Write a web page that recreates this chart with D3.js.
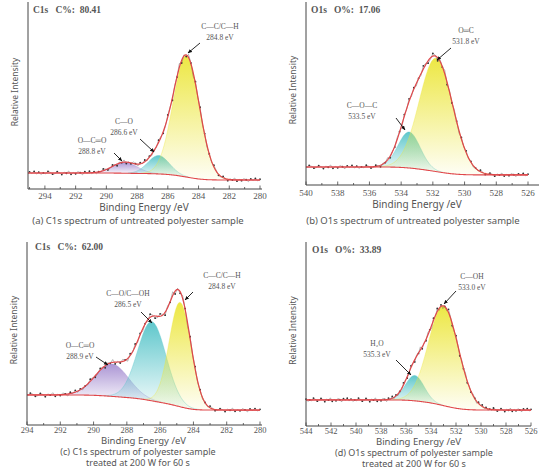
<!DOCTYPE html>
<html>
<head>
<meta charset="utf-8">
<script src="https://cdn.jsdelivr.net/npm/d3@7"></script>
<style>
  body { margin: 0; background: #fff; }
  svg text { fill: #555; }
  .serif { font-family: "Liberation Serif", "DejaVu Serif", serif; }
  .sans { font-family: "Noto Sans", "Open Sans", sans-serif; }
</style>
</head>
<body>
<div id="chart"></div>
<script>
// Peak fits: [centre eV, amplitude (% of axis height), sigma eV, colour key]
const peaksA = [[284.8, 66, 0.85, 'y'], [286.6, 10, 0.7, 'c'], [288.8, 6, 0.8, 'p']];
const peaksB = [[531.8, 63, 1.05, 'y'], [533.5, 20, 0.7, 'c']];
const peaksC = [[284.8, 58, 0.65, 'y'], [286.5, 44, 0.85, 'c'], [288.9, 18, 1.0, 'p']];
const peaksD = [[533.0, 55, 1.2, 'y'], [535.3, 14, 0.75, 'c']];

// background level at high-BE and low-BE end
const bgA = [8.7, 4.9], bgB = [10, 5.6], bgC = [16.7, 8.3], bgD = [14.4, 8.8];

// residual scatter of the measured points (repeats along the scan)
const noise = [0.6, -0.8, 1.2, -0.3, 0.9, -1.4, 0.2, 1.1, -0.6, 0.4, -1.0, 1.5, -0.2, 0.7, -1.2, 0.3, 1.0, -0.5, -0.9, 0.5, 1.3, -0.7, 0.1, -1.1];

const headers = ['C1s   C%:  80.41', 'O1s   O%:  17.06', 'C1s   C%:  62.00', 'O1s   O%:  33.89'];
const captions = [
  ['(a) C1s spectrum of untreated polyester sample'],
  ['(b) O1s spectrum of untreated polyester sample'],
  ['(c) C1s spectrum of polyester sample', 'treated at 200 W for 60 s'],
  ['(d) O1s spectrum of polyester sample', 'treated at 200 W for 60 s']
];
const tickValsC = [294, 292, 290, 288, 286, 284, 282, 280];
const tickValsB = [540, 538, 536, 534, 532, 530, 528, 526];
const tickValsD = [544, 542, 540, 538, 536, 534, 532, 530, 528, 526];

// annotations: [label, eV line, text x, text y, arrow from, arrow to]
const notesA = [['C—C/C—H', '284.8 eV', 220, 29, [200, 43], [188, 53]],
  ['C—O', '286.6 eV', 124, 124, [140, 139], [154, 152]],
  ['O—C═O', '288.8 eV', 92, 143, [114, 153], [122, 161]]];
const notesB = [['O═C', '531.8 eV', 466, 33, [451, 48], [437, 60]],
  ['C—O—C', '533.5 eV', 362, 108, [396, 118], [405, 130]]];
const notesC = [['C—C/C—H', '284.8 eV', 222, 278, [193, 292], [185, 300]],
  ['C—O/C—OH', '286.5 eV', 128, 296, [141, 312], [152, 323]],
  ['O—C═O', '288.9 eV', 80, 348, [96, 357], [108, 365]]];
const notesD = [['C—OH', '533.0 eV', 472, 279, [456, 291], [444, 304]],
  ['H₂O', '535.3 eV', 377, 346, [396, 360], [411, 375]]];

const panels = [
  { peaks: peaksA, bg: bgA, dom: [295.1, 280], x: [28, 260], y: [189, 5], axisEnd: 262, ticks: tickValsC, notes: notesA, hx: 33, hy: 13, tickY: 199, titleY: 211, capY: 224, capX: 138 },
  { peaks: peaksB, bg: bgB, dom: [540, 526], x: [306, 528], y: [185, 5], axisEnd: 539, ticks: tickValsB, notes: notesB, hx: 311, hy: 13, tickY: 196, titleY: 208, capY: 224, capX: 413 },
  { peaks: peaksC, bg: bgC, dom: [294, 280], x: [27, 260], y: [425, 245], axisEnd: 262, ticks: tickValsC, notes: notesC, hx: 35, hy: 250, tickY: 433, titleY: 444, capY: 455, capX: 138 },
  { peaks: peaksD, bg: bgD, dom: [544, 526], x: [306, 531], y: [426, 245], axisEnd: 531, ticks: tickValsD, notes: notesD, hx: 312, hy: 253, tickY: 434, titleY: 445, capY: 456, capX: 414 }
];

const colours = { y: '#ece63a', c: '#56c4c9', p: '#a790d2' };

const svg = d3.select('#chart').append('svg').attr('width', 553).attr('height', 474);
const defs = svg.append('defs');
Object.entries(colours).forEach(([k, c]) => {
  const g = defs.append('linearGradient').attr('id', 'g' + k).attr('x1', 0).attr('x2', 0).attr('y1', 0).attr('y2', 1);
  g.append('stop').attr('offset', '0%').attr('stop-color', c).attr('stop-opacity', 0.95);
  g.append('stop').attr('offset', '100%').attr('stop-color', c).attr('stop-opacity', 0.05);
});
const marker = defs.append('marker').attr('id', 'arr').attr('viewBox', '0 0 10 10').attr('refX', 9).attr('refY', 5)
  .attr('markerWidth', 5).attr('markerHeight', 5).attr('orient', 'auto');
marker.append('path').attr('d', 'M0,1 L10,5 L0,9 z').attr('fill', '#111');

const gauss = (e, p) => p[1] * Math.exp(-((e - p[0]) ** 2) / (2 * p[2] * p[2]));

panels.forEach((P, i) => {
  const x = d3.scaleLinear().domain(P.dom).range(P.x);
  const y = d3.scaleLinear().domain([0, 100]).range(P.y);
  const lo = Math.min(...P.dom), hi = Math.max(...P.dom);
  const step = 0.05;
  const es = d3.range(lo, hi + step / 2, step);
  // Shirley-like background: step proportional to peak area on the low-BE side
  let cum = 0;
  const sums = es.map(e => d3.sum(P.peaks, p => gauss(e, p)));
  const total = d3.sum(sums);
  const bg = es.map((e, k) => { cum += sums[k]; return P.bg[1] + (P.bg[0] - P.bg[1]) * cum / total; });
  const g = svg.append('g');

  // component fills
  P.peaks.slice().reverse().forEach(p => {
    const pts = es.map((e, k) => ({ e, b: bg[k], v: gauss(e, p) })).filter(d => d.v > 0.15);
    g.append('path').datum(pts)
      .attr('d', d3.area().x(d => x(d.e)).y0(d => y(d.b)).y1(d => y(d.b + d.v)).curve(d3.curveBasis))
      .attr('fill', `url(#g${p[3]})`);
    g.append('path').datum(pts)
      .attr('d', d3.line().x(d => x(d.e)).y(d => y(d.b + d.v)))
      .attr('fill', 'none').attr('stroke', colours[p[3]]).attr('stroke-width', 0.6).attr('opacity', 0.6);
  });

  const env = es.map((e, k) => ({ e, v: bg[k] + sums[k] }));
  // measured points
  const meas = env.filter((d, k) => k % 3 === 0).map((d, k) => ({ e: d.e, v: d.v + noise[k % noise.length] * (0.6 + d.v / 80) }));
  g.append('path').datum(meas).attr('d', d3.line().x(d => x(d.e)).y(d => y(d.v)))
    .attr('fill', 'none').attr('stroke', '#555').attr('stroke-width', 0.6).attr('opacity', 0.7);
  g.selectAll('circle').data(meas.filter((d, k) => k % 2 === 0)).join('circle')
    .attr('cx', d => x(d.e)).attr('cy', d => y(d.v)).attr('r', 0.9).attr('fill', '#333');

  g.append('path').datum(es.map((e, k) => ({ e, v: bg[k] })))
    .attr('d', d3.line().x(d => x(d.e)).y(d => y(d.v))).attr('fill', 'none').attr('stroke', '#e0474a').attr('stroke-width', 1.1);
  g.append('path').datum(env).attr('d', d3.line().x(d => x(d.e)).y(d => y(d.v)))
    .attr('fill', 'none').attr('stroke', '#e0474a').attr('stroke-width', 1.2);

  // axes
  g.append('line').attr('x1', P.x[0]).attr('x2', P.axisEnd).attr('y1', P.y[0]).attr('y2', P.y[0]).attr('stroke', '#444').attr('stroke-width', 1);
  g.append('line').attr('x1', P.x[0]).attr('x2', P.x[0]).attr('y1', P.y[0]).attr('y2', P.y[1] - 3).attr('stroke', '#444').attr('stroke-width', 1);
  const minor = d3.range(Math.ceil(lo), Math.floor(hi) + 1);
  g.selectAll('.tk').data(minor).join('line')
    .attr('x1', d => x(d)).attr('x2', d => x(d)).attr('y1', P.y[0]).attr('y2', d => P.y[0] - (d % 2 === 0 ? 3.5 : 2))
    .attr('stroke', '#444').attr('stroke-width', 0.8);
  g.selectAll('.tl').data(P.ticks).join('text').attr('class', 'serif')
    .attr('x', d => x(d)).attr('y', P.tickY).attr('text-anchor', 'middle').attr('font-size', i > 1 ? 8.5 : 9).text(d => d);

  g.append('text').attr('class', 'sans').attr('x', (P.x[0] + P.x[1]) / 2).attr('y', P.titleY)
    .attr('text-anchor', 'middle').attr('font-size', i > 1 ? 9.5 : 10).text('Binding Energy /eV');
  captions[i].forEach((t, k) => g.append('text').attr('class', 'sans').attr('x', P.capX).attr('y', P.capY + k * 11)
    .attr('text-anchor', 'middle').attr('font-size', i > 1 ? 9 : 9.5).text(t));
  g.append('text').attr('class', 'sans').attr('transform', `translate(${P.x[0] - 10},${(P.y[0] + P.y[1]) / 2 - 5}) rotate(-90)`)
    .attr('text-anchor', 'middle').attr('font-size', 8.5).text('Relative Intensity');
  g.append('text').attr('class', 'serif').attr('x', P.hx).attr('y', P.hy).attr('font-size', 9.5)
    .attr('font-weight', 'bold').attr('fill', '#444').style('white-space', 'pre').text(headers[i]);

  P.notes.forEach(n => {
    g.append('text').attr('class', 'serif').attr('x', n[2]).attr('y', n[3]).attr('text-anchor', 'middle').attr('font-size', 7.5).text(n[0]);
    g.append('text').attr('class', 'serif').attr('x', n[2]).attr('y', n[3] + 11).attr('text-anchor', 'middle').attr('font-size', 7.5).text(n[1]);
    g.append('line').attr('x1', n[4][0]).attr('y1', n[4][1]).attr('x2', n[5][0]).attr('y2', n[5][1])
      .attr('stroke', '#111').attr('stroke-width', 0.9).attr('marker-end', 'url(#arr)');
  });
});
</script>
</body>
</html>
